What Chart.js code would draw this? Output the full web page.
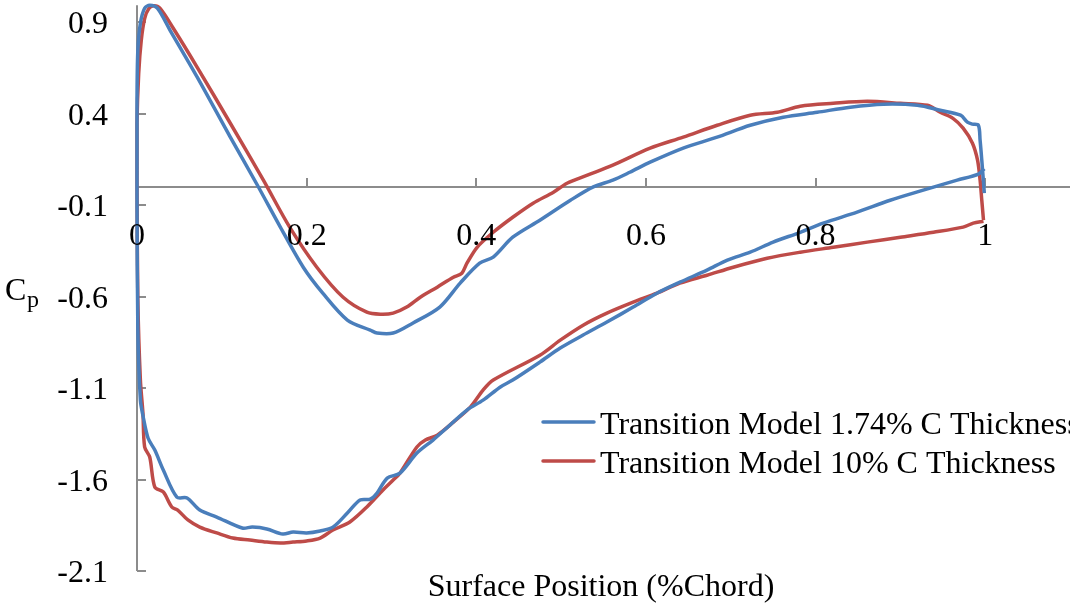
<!DOCTYPE html>
<html>
<head>
<meta charset="utf-8">
<script src="https://cdn.jsdelivr.net/npm/chart.js@4.4.1/dist/chart.umd.min.js"></script>
<style>
    html, body { margin: 0; padding: 0; background: #fff; }
    #wrap { width: 1070px; height: 612px; position: relative; }
</style>
</head>
<body>
<div id="wrap"><canvas id="cpChart"></canvas></div>
<script>
// Seri isimleri ve eksen etiketleri
const seriesLabels = ['Transition Model 1.74% C Thickness', 'Transition Model 10% C Thickness'];
const xTicks = [0, 0.2, 0.4, 0.6, 0.8, 1];
const yTicks = [-2.1, -1.6, -1.1, -0.6, -0.1, 0.4, 0.9];
const xTitle = 'Surface Position (%Chord)';

// 1.74% kalınlık: alt yüzey (firar kenarı -> hücum kenarı), sonra üst yüzey
const blueX = [0.999, 0.992, 0.967, 0.927, 0.888, 0.849, 0.809, 0.782, 0.750, 0.723, 0.696, 0.672, 0.640, 0.613,
    0.585, 0.554, 0.526, 0.499, 0.475, 0.443, 0.428, 0.408, 0.389, 0.369, 0.349, 0.330, 0.310, 0.295, 0.283,
    0.275, 0.263, 0.248, 0.231, 0.216, 0.200, 0.184, 0.172, 0.153, 0.136, 0.124, 0.094, 0.074, 0.059, 0.047,
    0.031, 0.021, 0.013, 0.007, 0.004, 0.001, 0.000, 0.000, 0.001, 0.004, 0.009, 0.015, 0.024, 0.039, 0.071,
    0.110, 0.142, 0.169, 0.196, 0.219, 0.248, 0.275, 0.283, 0.302, 0.325, 0.357, 0.381, 0.404, 0.420, 0.443,
    0.475, 0.511, 0.538, 0.561, 0.581, 0.605, 0.644, 0.684, 0.723, 0.762, 0.802, 0.841, 0.880, 0.920, 0.947,
    0.971, 0.979, 0.985, 0.992, 0.994, 0.996, 0.999];
const blueY = [0.10, 0.07, 0.037, -0.018, -0.073, -0.138, -0.198, -0.248, -0.302, -0.357, -0.400, -0.455, -0.521, -0.581,
    -0.657, -0.739, -0.810, -0.881, -0.958, -1.056, -1.095, -1.166, -1.220, -1.302, -1.384, -1.455, -1.565, -1.592, -1.674,
    -1.707, -1.712, -1.783, -1.860, -1.881, -1.892, -1.887, -1.898, -1.870, -1.860, -1.865, -1.805, -1.767, -1.701, -1.696,
    -1.548, -1.439, -1.373, -1.25, -1.166, -0.78, -0.07, 0.474, 0.747, 0.895, 0.977, 0.993, 0.977, 0.856, 0.600,
    0.272, 0.009, -0.220, -0.439, -0.581, -0.728, -0.783, -0.799, -0.799, -0.745, -0.657, -0.526, -0.417, -0.384, -0.275,
    -0.182, -0.073, 0.0, 0.037, 0.080, 0.135, 0.212, 0.272, 0.337, 0.381, 0.408, 0.436, 0.452, 0.446, 0.419,
    0.392, 0.354, 0.343, 0.337, 0.255, 0.146, -0.034];

// 10% kalınlık: alt yüzey (firar kenarı -> hücum kenarı), sonra üst yüzey
const redX = [0.998, 0.986, 0.974, 0.939, 0.900, 0.861, 0.821, 0.782, 0.743, 0.703, 0.672, 0.640, 0.613, 0.585,
    0.554, 0.526, 0.499, 0.475, 0.420, 0.408, 0.393, 0.373, 0.354, 0.340, 0.330, 0.310, 0.302, 0.290, 0.271,
    0.251, 0.231, 0.216, 0.200, 0.184, 0.169, 0.153, 0.133, 0.113, 0.094, 0.074, 0.060, 0.048, 0.041, 0.031,
    0.021, 0.015, 0.009, 0.007, 0.004, 0.001, 0.000, 0.000, 0.002, 0.005, 0.009, 0.014, 0.020, 0.027, 0.042,
    0.071, 0.110, 0.149, 0.180, 0.212, 0.243, 0.271, 0.287, 0.302, 0.318, 0.334, 0.354, 0.373, 0.383, 0.389,
    0.401, 0.420, 0.443, 0.467, 0.491, 0.507, 0.531, 0.561, 0.605, 0.644, 0.684, 0.723, 0.755, 0.782, 0.821,
    0.861, 0.900, 0.932, 0.947, 0.962, 0.974, 0.985, 0.991, 0.994, 0.996, 0.998];
const redY = [-0.188, -0.198, -0.220, -0.248, -0.275, -0.302, -0.330, -0.357, -0.390, -0.439, -0.483, -0.526, -0.581, -0.630,
    -0.690, -0.756, -0.838, -0.920, -1.056, -1.111, -1.204, -1.286, -1.357, -1.384, -1.422, -1.565, -1.603, -1.657, -1.750,
    -1.832, -1.876, -1.920, -1.936, -1.942, -1.947, -1.942, -1.931, -1.920, -1.892, -1.860, -1.821, -1.767, -1.750, -1.668,
    -1.641, -1.477, -1.422, -1.237, -1.056, -0.62, 0.037, 0.35, 0.62, 0.80, 0.92, 0.975, 0.99, 0.977, 0.873,
    0.654, 0.348, 0.037, -0.220, -0.439, -0.603, -0.685, -0.696, -0.690, -0.657, -0.603, -0.548, -0.494, -0.472, -0.417,
    -0.330, -0.248, -0.166, -0.089, -0.029, 0.020, 0.064, 0.119, 0.212, 0.272, 0.337, 0.392, 0.408, 0.441, 0.457,
    0.468, 0.457, 0.446, 0.408, 0.375, 0.321, 0.239, 0.146, 0.037, -0.073, -0.182];

const seriesColors = ['#4a7ebb', '#be4b48'];
const FONT = "'Liberation Serif', 'Times New Roman', 'DejaVu Serif', serif";
const AXIS_COLOR = '#8c8c8c';

function toPoints(xs, ys) {
    return xs.map((x, i) => ({ x: x, y: ys[i] }));
}

// Eksenler, tik işaretleri, etiketler ve lejant
const axesPlugin = {
    id: 'excelAxes',
    beforeDatasetsDraw(chart) {
        const ctx = chart.ctx;
        const xs = chart.scales.x;
        const ys = chart.scales.y;
        const x0 = xs.getPixelForValue(0);
        const y0 = ys.getPixelForValue(0);
        ctx.save();
        ctx.strokeStyle = AXIS_COLOR;
        ctx.lineWidth = 2;
        ctx.beginPath();
        // dikey eksen
        ctx.moveTo(x0, ys.getPixelForValue(0.993));
        ctx.lineTo(x0, ys.getPixelForValue(yTicks[0]));
        yTicks.forEach(v => {
            const py = Math.round(ys.getPixelForValue(v));
            ctx.moveTo(x0, py);
            ctx.lineTo(x0 + 9, py);
        });
        // yatay eksen (Cp = 0)
        ctx.moveTo(x0, Math.round(y0));
        ctx.lineTo(xs.right, Math.round(y0));
        xTicks.forEach(v => {
            if (v === 0) return;
            const px = Math.round(xs.getPixelForValue(v));
            ctx.moveTo(px, y0);
            ctx.lineTo(px, y0 - 9);
        });
        ctx.stroke();
        ctx.restore();
    },
    afterDatasetsDraw(chart) {
        const ctx = chart.ctx;
        const xs = chart.scales.x;
        const ys = chart.scales.y;
        const x0 = xs.getPixelForValue(0);
        const y0 = ys.getPixelForValue(0);
        ctx.save();
        ctx.fillStyle = '#000';
        ctx.font = '32px ' + FONT;
        ctx.textBaseline = 'alphabetic';

        // y etiketleri
        ctx.textAlign = 'right';
        yTicks.forEach(v => {
            ctx.fillText(v.toFixed(1), x0 - 29, ys.getPixelForValue(v) + 11);
        });

        // x etiketleri (eksenin altında)
        ctx.textAlign = 'center';
        xTicks.forEach(v => {
            ctx.fillText(String(v), xs.getPixelForValue(v), y0 + 58);
        });

        // eksen başlıkları
        ctx.fillText(xTitle, 601, 596);
        ctx.textAlign = 'left';
        ctx.fillText('C', 5, 300);
        ctx.font = '24px ' + FONT;
        ctx.fillText('p', 27, 307);

        // lejant
        ctx.font = '32px ' + FONT;
        const legendY = [422, 461];
        chart.data.datasets.forEach((ds, i) => {
            ctx.strokeStyle = ds.borderColor;
            ctx.lineWidth = 3.5;
            ctx.lineCap = 'round';
            ctx.beginPath();
            ctx.moveTo(543, legendY[i]);
            ctx.lineTo(594, legendY[i]);
            ctx.stroke();
            ctx.fillText(ds.label, 600, legendY[i] + 12);
        });
        ctx.restore();
    }
};

const cpCtx = document.getElementById('cpChart').getContext('2d');
const cpChart = new Chart(cpCtx, {
    type: 'scatter',
    data: {
        datasets: [{
            label: seriesLabels[0],
            data: toPoints(blueX, blueY),
            borderColor: seriesColors[0],
            backgroundColor: seriesColors[0]
        }, {
            label: seriesLabels[1],
            data: toPoints(redX, redY),
            borderColor: seriesColors[1],
            backgroundColor: seriesColors[1]
        }]
    },
    options: {
        responsive: true,
        maintainAspectRatio: false,
        animation: false,
        layout: {
            padding: { left: 137, right: 0, top: 4, bottom: 41 }
        },
        datasets: {
            scatter: {
                showLine: true,
                pointRadius: 0,
                borderWidth: 3.5,
                tension: 0.3,
                borderJoinStyle: 'round',
                clip: false
            }
        },
        plugins: {
            legend: { display: false },
            tooltip: { enabled: false }
        },
        scales: {
            x: { type: 'linear', min: 0, max: 1.1, display: false },
            y: { type: 'linear', min: -2.1, max: 1.0, display: false }
        }
    },
    plugins: [axesPlugin]
});
</script>
</body>
</html>
